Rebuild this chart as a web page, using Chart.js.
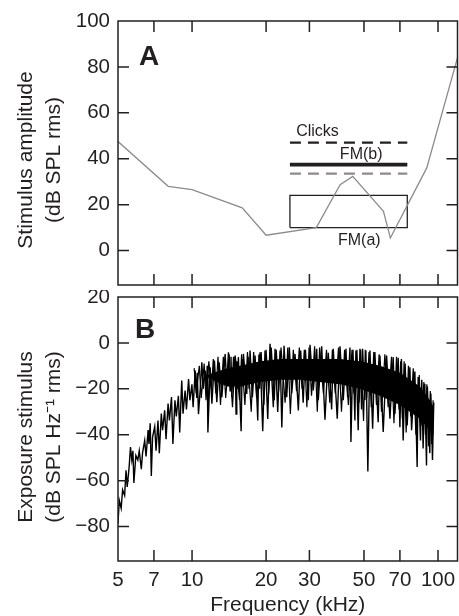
<!DOCTYPE html>
<html lang="en">
<head>
<meta charset="UTF-8" />
<title>Stimulus amplitude and exposure stimulus</title>
<script src="https://cdn.jsdelivr.net/npm/chart.js"></script>
<style>
  body { margin: 0; background: #fff; }
  .panel { position: absolute; left: 0; width: 459px; }
  #panelA { top: 0; height: 292px; }
  #panelB { top: 290px; height: 326px; }
</style>
</head>
<body>
<div class="panel" id="panelA"><canvas id="chartA"></canvas></div>
<div class="panel" id="panelB"><canvas id="chartB"></canvas></div>

<script>
// axis ticks
const freqTicks = [5, 7, 10, 20, 30, 50, 70, 100];
const ampTicks = [0, 20, 40, 60, 80, 100];
const expTicks = [-80, -60, -40, -20, 0, 20];

// panel A - grey threshold curve (kHz, dB)
const thrFreq = [5, 8, 10, 16, 20, 32, 40, 45, 60, 64, 90, 120];
const thrDb = [47.5, 28, 26.5, 18.6, 6.7, 10, 28.7, 32.3, 17.1, 5.5, 36, 84];

// panel A - stimulus levels
const stimSpan = [25, 75];      // kHz
const clicksDb = 47;
const fmbDb = 37.4;
const greyDashDb = 33.5;
const fmaDb = [10, 24];         // box bottom / top

// panel B - exposure spectrum, solid core of the noise
const bandFreq = [11.5, 13.9, 15.7, 18.9, 22.8, 27.5, 33.1, 39.9, 48.2, 58.1, 70, 84.4, 92.7, 96];
const bandTop = [-14, -11, -10, -8, -7, -7, -7, -7, -8, -10, -13, -19, -25, -28];
const bandLow = [-15, -19, -19, -17, -16, -16, -17, -18, -20, -23, -27, -33, -38, -40];

// panel B - ragged trace (peaks and deep dips)
const noiseFreq = [
  5.00, 5.06, 5.15, 5.22, 5.32, 5.39, 5.45, 5.55, 5.62, 5.69, 5.75, 5.80, 5.91, 6.02, 6.10, 6.22,
  6.29, 6.42, 6.50, 6.63, 6.68, 6.76, 6.83, 6.91, 7.05, 7.14, 7.27, 7.36, 7.50, 7.59, 7.74, 7.84,
  7.99, 8.09, 8.25, 8.36, 8.52, 8.63, 8.80, 8.91, 9.08, 9.19, 9.37, 9.49, 9.68, 9.80, 9.99, 10.1,
  10.3, 10.45, 10.5, 10.62, 10.8, 10.96, 11.1, 11.31, 11.45, 11.52, 11.60, 11.85, 12.04, 12.33, 12.61, 12.89,
  13.22, 13.63, 13.85, 14.06, 14.28, 14.4, 14.51, 14.75, 14.9, 14.97, 15.1, 15.2, 15.3, 15.43, 15.83, 16.0,
  16.1, 16.17, 16.69, 16.9, 17.05, 17.21, 17.59, 18.04, 18.5, 18.7, 18.8, 18.9, 19.38, 19.8, 20.31, 20.75,
  21.4, 21.75, 22.3, 22.79, 23.17, 23.66, 24.26, 24.86, 25.42, 26.22, 27.05, 27.65, 28.3, 28.9, 29.69, 30.17,
  31.11, 32.11, 32.6, 33.65, 34.7, 35.79, 36.94, 37.5, 38.93, 39.94, 41.19, 42.24, 42.9, 43.85, 44.25, 45.1,
  45.93, 46.36, 47.37, 48.15, 48.89, 49.34, 50.43, 50.89, 51.85, 52.87, 54.22, 55.36, 57.1, 58.06, 59.86, 61.79,
  63.75, 65.73, 66.79, 68.87, 69.99, 71.0, 72.17, 73.5, 74.92, 76.84, 78.07, 80.51, 82.25, 83.02, 84.87, 85.9,
  86.97, 88.36, 89.77, 90.5, 92.59, 93.5, 94.95, 96.1
];
const noiseDb = [
  -78.7, -68.6, -72, -64, -66.5, -55.5, -62.7, -54, -45.4, -51, -47, -61, -49, -51, -47, -55,
  -48, -42.5, -49.5, -38, -44, -35, -58, -41, -36.5, -47, -33.8, -48, -30.8, -38, -29.4, -42,
  -26.4, -33.8, -23.6, -44, -25, -32, -23, -39, -16.4, -30.8, -20.8, -29, -15.7, -25, -18, -28,
  -12, -24, -13, -31, -20, -8.4, -20, -12, -21, -10, -39, -10.6, -26.5, -7.7, -25.8, -8.4,
  -23.6, -4.8, -18, -4.1, -20.9, -6, -23.6, -6, -18, -5.5, -31, -8, -20, -6.2, -38.5, -7,
  -19, -4.8, -22.2, -6, -20, -3.3, -23.6, -5.5, -33.8, -5, -20, -4.1, -38.5, -3.3, -33.1, -0.4,
  -28, -2.6, -30.1, -3.3, -36.8, -1.2, -23.6, -1.9, -22, -4.8, -29.4, -3.3, -26, -3, -25, -0.8,
  -20.7, -2.6, -25, -1.5, -33.5, -4.3, -29, -2.6, -33, -1.5, -25, -2.6, -23.6, -2, -43.2, -3,
  -33.8, -3.3, -38, -2.6, -29, -2.6, -25, -3.3, -56, -3.3, -37.4, -4, -34.5, -5.5, -38.8, -5.5,
  -33, -6.2, -31, -6.5, -36.7, -7, -42.5, -9, -36, -10.6, -38, -12.5, -54.1, -14.9, -42.5, -16,
  -46, -17.8, -53.4, -19, -48, -22, -51, -26
];

// panel B - shorter dips inside the body of the noise
const bodyFreq = [
  10.2, 10.4, 10.7, 10.9, 11.2, 11.4, 11.7, 12.0, 12.2, 12.5, 12.75, 13.05, 13.4, 13.7, 14.15, 14.6,
  15.0, 15.6, 15.9, 16.4, 16.8, 17.4, 17.8, 18.3, 19.1, 19.6, 20.0, 20.5, 21.0, 21.6, 22.0, 22.5,
  23.0, 23.9, 24.5, 25.1, 25.8, 26.6, 27.3, 28.0, 28.6, 29.3, 29.9, 30.6, 31.5, 32.3, 33.0, 34.2,
  35.2, 36.3, 37.2, 38.2, 39.4, 40.5, 41.7, 43.2, 44.7, 45.5, 46.8, 47.8, 48.5, 49.8, 50.6, 51.3,
  52.4, 53.5, 54.8, 56.2, 57.6, 58.9, 60.8, 62.7, 64.7, 66.2, 67.8, 69.4, 70.5, 71.6, 72.8, 74.2,
  75.8, 77.4, 79.3, 81.3, 83.9, 85.4, 87.6, 88.9, 90.1, 91.5, 93.0, 94.2, 95.5
];
const bodyDb = [
  -11, -22, -10, -24, -9, -25, -8, -20, -7, -22, -6, -27, -6, -24, -5, -28,
  -6, -25, -5, -27, -4, -30, -4, -24, -4, -27, -3, -22, -2, -25, -3, -21,
  -2, -26, -2, -31, -3, -21, -2, -20, -3, -28, -2, -23, -1.5, -30, -2, -22,
  -3, -26, -3, -22, -2, -30, -3, -27, -3, -22, -3, -26, -3, -34, -3, -24,
  -4, -28, -4, -27, -5, -30, -5, -28, -6, -35, -6, -29, -8, -33, -8, -39,
  -10, -32, -11, -40, -14, -36, -17, -40, -18, -45, -21, -44, -25
];

const INK = '#231f20';
const GREY = '#8c8c8c';
const FONT = 'Liberation Sans, Arial, Helvetica, sans-serif';
const TICK = 11;

const pts = (xs, ys) => xs.map((x, i) => ({ x: x, y: ys[i] }));

// frame with inward ticks on all four sides, y titles, panel letter, notes
const framePlugin = {
  id: 'frame',
  afterDatasetsDraw(chart, args, opts) {
    const { ctx, chartArea: a, scales } = chart;
    ctx.save();
    ctx.strokeStyle = INK;
    ctx.lineWidth = 1.5;
    ctx.beginPath();
    scales.x.ticks.forEach(t => {
      const px = scales.x.getPixelForValue(t.value);
      if (px < a.left + 2 || px > a.right - 2) return;
      ctx.moveTo(px, a.top); ctx.lineTo(px, a.top + TICK);
      ctx.moveTo(px, a.bottom); ctx.lineTo(px, a.bottom - TICK);
    });
    scales.y.ticks.forEach(t => {
      const py = scales.y.getPixelForValue(t.value);
      if (py < a.top + 2 || py > a.bottom - 2) return;
      ctx.moveTo(a.left, py); ctx.lineTo(a.left + TICK, py);
      ctx.moveTo(a.right, py); ctx.lineTo(a.right - TICK, py);
    });
    ctx.stroke();
    ctx.strokeRect(a.left, a.top, a.right - a.left, a.bottom - a.top);

    ctx.fillStyle = INK;
    // y title, two lines, rotated
    ctx.save();
    ctx.translate(0, (a.top + a.bottom) / 2 + opts.titleShift);
    ctx.rotate(-Math.PI / 2);
    ctx.font = '21px ' + FONT;
    ctx.textAlign = 'center';
    ctx.textBaseline = 'middle';
    ctx.fillText(opts.yTitle[0], 0, 26.5);
    ctx.fillText(opts.yTitle[1], 0, 54);
    ctx.restore();

    // panel letter
    ctx.font = 'bold 28px ' + FONT;
    ctx.textAlign = 'left';
    ctx.textBaseline = 'middle';
    ctx.fillText(opts.letter, a.left + opts.letterPos[0], a.top + opts.letterPos[1]);

    // notes placed in data coordinates
    ctx.font = '16px ' + FONT;
    (opts.notes || []).forEach(n => {
      ctx.fillText(n.text, scales.x.getPixelForValue(n.f), scales.y.getPixelForValue(n.db));
    });
    ctx.restore();
  }
};

function xAxis(showLabels) {
  return {
    type: 'logarithmic',
    min: 5,
    max: 120,
    afterBuildTicks: s => { s.ticks = freqTicks.map(v => ({ value: v })); },
    afterFit: s => { s.height = showLabels ? 55 : 0; s.paddingLeft = 0; s.paddingRight = 0; },
    grid: { display: false, drawTicks: false },
    border: { display: false },
    ticks: {
      display: showLabels,
      autoSkip: false,
      maxRotation: 0,
      padding: 7,
      color: INK,
      font: { family: FONT, size: 20.5 },
      callback: v => String(v)
    },
    title: {
      display: showLabels,
      text: 'Frequency (kHz)',
      color: INK,
      font: { family: FONT, size: 21, lineHeight: 1 },
      padding: { top: 0, bottom: 0 }
    }
  };
}

function yAxis(min, max, tickList) {
  return {
    type: 'linear',
    min: min,
    max: max,
    afterBuildTicks: s => { s.ticks = tickList.map(v => ({ value: v })); },
    afterFit: s => { s.width = 118; s.paddingTop = 0; s.paddingBottom = 0; },
    grid: { display: false, drawTicks: false },
    border: { display: false },
    ticks: {
      padding: 8,
      color: INK,
      font: { family: FONT, size: 20.5 },
      callback: v => String(v).replace('-', '\u2212')
    }
  };
}

const lineBase = { type: 'line', pointRadius: 0, fill: false, tension: 0 };

new Chart(document.getElementById('chartA'), {
  type: 'line',
  data: {
    datasets: [
      Object.assign({}, lineBase, { data: pts(thrFreq, thrDb), borderColor: GREY, borderWidth: 1.3 }),
      Object.assign({}, lineBase, { data: pts(stimSpan, [clicksDb, clicksDb]), borderColor: INK, borderWidth: 2.4, borderDash: [11, 7] }),
      Object.assign({}, lineBase, { data: pts(stimSpan, [fmbDb, fmbDb]), borderColor: INK, borderWidth: 3.8 }),
      Object.assign({}, lineBase, { data: pts(stimSpan, [fmbDb, fmbDb]), borderColor: '#c4c4c4', borderWidth: 1.8 }),
      Object.assign({}, lineBase, { data: pts(stimSpan, [greyDashDb, greyDashDb]), borderColor: GREY, borderWidth: 2.2, borderDash: [11, 7] }),
      Object.assign({}, lineBase, {
        data: pts([stimSpan[0], stimSpan[0], stimSpan[1], stimSpan[1], stimSpan[0]],
                  [fmaDb[0], fmaDb[1], fmaDb[1], fmaDb[0], fmaDb[0]]),
        borderColor: INK, borderWidth: 1.3
      })
    ]
  },
  options: {
    responsive: true,
    maintainAspectRatio: false,
    animation: false,
    layout: { padding: { top: 21, right: 1.5, bottom: 7, left: 0 } },
    scales: { x: xAxis(false), y: yAxis(-15, 100, ampTicks) },
    plugins: {
      legend: { display: false },
      tooltip: { enabled: false },
      frame: {
        yTitle: ['Stimulus amplitude', '(dB SPL rms)'],
        titleShift: 7,
        letter: 'A',
        letterPos: [21, 36],
        notes: [
          { text: 'Clicks', f: 26.5, db: 52 },
          { text: 'FM(b)', f: 39.9, db: 41.7 },
          { text: 'FM(a)', f: 39.2, db: 4.5 }
        ]
      }
    }
  },
  plugins: [framePlugin]
});

new Chart(document.getElementById('chartB'), {
  type: 'line',
  data: {
    datasets: [
      Object.assign({}, lineBase, { data: pts(bandFreq, bandLow), borderWidth: 0, borderColor: '#000' }),
      Object.assign({}, lineBase, { data: pts(bandFreq, bandTop), borderWidth: 0, borderColor: '#000', fill: '-1', backgroundColor: '#000' }),
      Object.assign({}, lineBase, { data: pts(bodyFreq, bodyDb), borderColor: '#000', borderWidth: 1.2 }),
      Object.assign({}, lineBase, { data: pts(noiseFreq, noiseDb), borderColor: '#000', borderWidth: 1.4 })
    ]
  },
  options: {
    responsive: true,
    maintainAspectRatio: false,
    animation: false,
    layout: { padding: { top: 7, right: 1.5, bottom: 0, left: 0 } },
    scales: { x: xAxis(true), y: yAxis(-95, 20, expTicks) },
    plugins: {
      legend: { display: false },
      tooltip: { enabled: false },
      filler: { propagate: false },
      frame: {
        yTitle: ['Exposure stimulus', '(dB SPL Hz\u207B\u00B9 rms)'],
        titleShift: 8,
        letter: 'B',
        letterPos: [17, 33]
      }
    }
  },
  plugins: [framePlugin]
});
</script>
</body>
</html>
